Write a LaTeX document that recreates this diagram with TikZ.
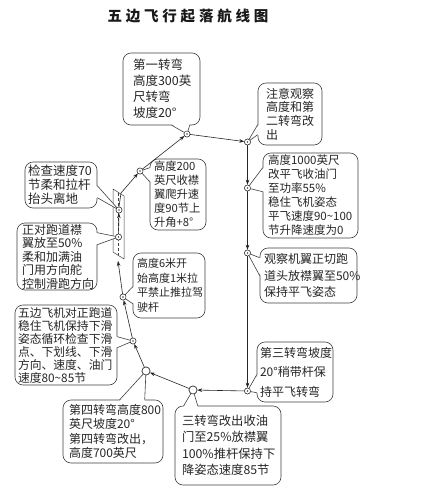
\documentclass[tikz,border=0pt]{standalone}
\usepackage{fontspec}
\newfontfamily\cjk{Noto Sans CJK SC}
\newfontfamily\titlefont[LetterSpace=26]{Noto Sans CJK SC}
\usetikzlibrary{calc,arrows.meta}
\newcommand\ctail[4]{%
  \fill[white] ($(#1)+(#4)$) -- (#3.center) -- ($(#2)+(#4)$) -- cycle;
  \draw[tailline] (#1) -- (#3.center) -- (#2);
}
\begin{document}
\begin{tikzpicture}[x=1pt,y=-1pt,
  callout/.style={draw=black!75, fill=white, line width=0.6pt, rounded corners=8pt,
    align=left, inner ysep=0pt, text=black!85},
  tailline/.style={draw=black!75, line width=0.6pt},
  pt/.style={circle, draw=black!80, fill=white, inner sep=0pt, minimum size=6pt, line width=0.5pt,
    path picture={\fill[black!70] (path picture bounding box.center) circle (0.8pt);}},
  bigpt/.style={circle, draw=black!80, fill=white, inner sep=0pt, minimum size=8pt, line width=0.6pt},
  flow/.style={draw=black!85, line width=0.6pt, -{Stealth[length=5pt,width=3.6pt]}},
  rwline/.style={draw=black!75, line width=0.5pt}
]
\useasboundingbox[fill=white] (0,0) rectangle (431,493);

% title
\node[font=\titlefont\bfseries\fontsize{14.5pt}{16pt}\selectfont, text=black!90] (title) at (188,16) {五边飞行起落航线图};

% circle points (positions)
\coordinate (P1) at (187,134);
\coordinate (P2) at (140,171);
\coordinate (P3) at (119,210);
\coordinate (P4) at (118.5,237);
\coordinate (P5) at (123,297);
\coordinate (P6) at (247.5,142);
\coordinate (P7) at (247.5,188);
\coordinate (P8) at (247.5,253);
\coordinate (P9) at (247.5,391);
\coordinate (P10) at (193,390);
\coordinate (P11) at (146,371);
\coordinate (P12) at (133,341);

% runway
\draw[rwline] (113,189) -- (124,196) -- (124,259) -- (113,252) -- cycle;
\draw[rwline, dash pattern=on 3pt off 2pt] (118.5,193) -- (118.5,255);

% callouts
\node[callout, inner xsep=10pt, text width=57pt, minimum width=77pt, minimum height=72pt,
  font=\cjk\fontsize{12.5pt}{16pt}\selectfont] (b1) at (161.5,89)
  {第一转弯\\高度300英\\尺转弯\\坡度20°};
\node[callout, inner xsep=8pt, text width=48pt, minimum width=64pt, minimum height=62pt,
  font=\cjk\fontsize{12pt}{13.6pt}\selectfont] (b2) at (290,114)
  {注意观察\\高度和第\\二转弯改\\出};
\node[callout, inner xsep=5pt, text width=85pt, minimum width=95pt, minimum height=85pt,
  font=\cjk\fontsize{11.5pt}{14pt}\selectfont] (b3) at (310.5,195.5)
  {高度1000英尺\\改平飞收油门\\至功率55\%\\稳住飞机姿态\\平飞速度90\textasciitilde100\\节升降速度为0};
\node[callout, inner xsep=4pt, text width=89pt, minimum width=97pt, minimum height=55pt,
  font=\cjk\fontsize{12pt}{16.5pt}\selectfont] (b4) at (308.5,275.5)
  {观察机翼正切跑\\道头放襟翼至50\%\\保持平飞姿态};
\node[callout, inner xsep=3pt, text width=70pt, minimum width=76pt, minimum height=60pt,
  font=\cjk\fontsize{12pt}{19.5pt}\selectfont] (b5) at (295,372)
  {第三转弯坡度\\20°稍带杆保\\持平飞转弯};
\node[callout, inner xsep=7pt, text width=92pt, minimum width=106pt, minimum height=79pt,
  font=\cjk\fontsize{12.3pt}{16.5pt}\selectfont] (b6) at (228,445.5)
  {三转弯改出收油\\门至25\%放襟翼\\100\%推杆保持下\\降姿态速度85节};
\node[callout, inner xsep=6pt, text width=88pt, minimum width=100pt, minimum height=63pt,
  font=\cjk\fontsize{12pt}{14.5pt}\selectfont] (b7) at (113,431.5)
  {第四转弯高度800\\英尺坡度20°\\第四转弯改出，\\高度700英尺};
\node[callout, inner xsep=3pt, text width=96pt, minimum width=102pt, minimum height=80pt,
  font=\cjk\fontsize{11.8pt}{13pt}\selectfont] (b8) at (66,345)
  {五边飞机对正跑道\\稳住飞机保持下滑\\姿态循环检查下滑\\点、下划线、下滑\\方向、速度、油门\\速度80\textasciitilde85节};
\node[callout, inner xsep=4pt, text width=64pt, minimum width=72pt, minimum height=65pt,
  font=\cjk\fontsize{11pt}{14.5pt}\selectfont] (b9) at (169,285.5)
  {高度6米开\\始高度1米拉\\平禁止推拉驾\\驶杆};
\node[callout, inner xsep=5pt, text width=70pt, minimum width=80pt, minimum height=67pt,
  font=\cjk\fontsize{12pt}{13.5pt}\selectfont] (b10) at (57,256.5)
  {正对跑道襟\\翼放至50\%\\柔和加满油\\门用方向舵\\控制滑跑方向};
\node[callout, inner xsep=3pt, text width=66pt, minimum width=72pt, minimum height=46pt,
  font=\cjk\fontsize{12.5pt}{14pt}\selectfont] (b11) at (61,185)
  {检查速度70\\节柔和拉杆\\抬头离地};
\node[callout, inner xsep=4pt, text width=48pt, minimum width=56pt, minimum height=71pt,
  font=\cjk\fontsize{11.3pt}{14pt}\selectfont] (b12) at (178,194.5)
  {高度200\\英尺收襟\\翼爬升速\\度90节上\\升角+8°};

% circle nodes
\node[pt] (C1) at (P1) {};
\node[pt] (C2) at (P2) {};
\node[pt] (C3) at (P3) {};
\node[pt] (C4) at (P4) {};
\node[pt] (C5) at (P5) {};
\node[pt] (C6) at (P6) {};
\node[pt] (C7) at (P7) {};
\node[pt] (C8) at (P8) {};
\node[pt] (C9) at (P9) {};
\node[bigpt] (C10) at (P10) {};
\node[bigpt] (C11) at (P11) {};
\node[pt] (C12) at (P12) {};

% tail base points
\coordinate (t1a) at ($(b1.south west)+(49,0)$);
\coordinate (t1b) at ($(b1.south west)+(67,0)$);
\coordinate (t2a) at ($(b2.north west)+(0,42)$);
\coordinate (t2b) at ($(b2.north west)+(0,52)$);
\coordinate (t3a) at ($(b3.north west)+(0,15)$);
\coordinate (t3b) at ($(b3.north west)+(0,39)$);
\coordinate (t4a) at ($(b4.north west)+(0,10)$);
\coordinate (t4b) at ($(b4.north west)+(0,28)$);
\coordinate (t5a) at ($(b5.north west)+(0,33)$);
\coordinate (t5b) at ($(b5.north west)+(0,51)$);
\coordinate (t6a) at ($(b6.north west)+(9,0)$);
\coordinate (t6b) at ($(b6.north west)+(23,0)$);
\coordinate (t7a) at ($(b7.north west)+(57,0)$);
\coordinate (t7b) at ($(b7.north west)+(82,0)$);
\coordinate (t8a) at ($(b8.north east)+(0,32)$);
\coordinate (t8b) at ($(b8.north east)+(0,43)$);
\coordinate (t9a) at ($(b9.north west)+(0,34)$);
\coordinate (t9b) at ($(b9.north west)+(0,51)$);
\coordinate (t10a) at ($(b10.north east)+(0,10)$);
\coordinate (t10b) at ($(b10.north east)+(0,22)$);
\coordinate (t11a) at ($(b11.north east)+(0,24)$);
\coordinate (t11b) at ($(b11.north east)+(0,36)$);
\coordinate (t12a) at ($(b12.north west)+(0,9)$);
\coordinate (t12b) at ($(b12.north west)+(0,23)$);

% tails
\ctail{t1a}{t1b}{C1}{0,-1.2}
\ctail{t2a}{t2b}{C6}{1.2,0}
\ctail{t3a}{t3b}{C7}{1.2,0}
\ctail{t4a}{t4b}{C8}{1.2,0}
\ctail{t5a}{t5b}{C9}{1.2,0}
\ctail{t6a}{t6b}{C10}{0,1.2}
\ctail{t7a}{t7b}{C11}{0,1.2}
\ctail{t8a}{t8b}{C12}{-1.2,0}
\ctail{t9a}{t9b}{C5}{1.2,0}
\ctail{t10a}{t10b}{C4}{-1.2,0}
\ctail{t11a}{t11b}{C3}{-1.2,0}
\ctail{t12a}{t12b}{C2}{1.2,0}

% flight path
\coordinate (rwtop) at (121,193);
\coordinate (rwbot) at (118,261);
\draw[flow] (C4) -- (C3);
\draw[flow] (C3.north) -- (rwtop) -- (C2);
\draw[flow] (C2) -- (C1);
\draw[flow] (C1) -- (C6);
\draw[flow] (C6) -- (C7);
\draw[flow] (C7) -- (C8);
\draw[flow] (C8) -- (C9);
\draw[flow] (C9) -- (C10);
\draw[flow] (C10) -- (C11);
\draw[flow] (C11) -- (C12);
\draw[flow] (C12) -- (C5);
\draw[flow] (C5) -- (rwbot);

% redraw circles on top
\foreach \n in {C1,C2,C3,C4,C5,C6,C7,C8,C9,C12} {\node[pt] at (\n) {};}
\foreach \n in {C10,C11} {\node[bigpt] at (\n) {};}
\end{tikzpicture}
\end{document}
